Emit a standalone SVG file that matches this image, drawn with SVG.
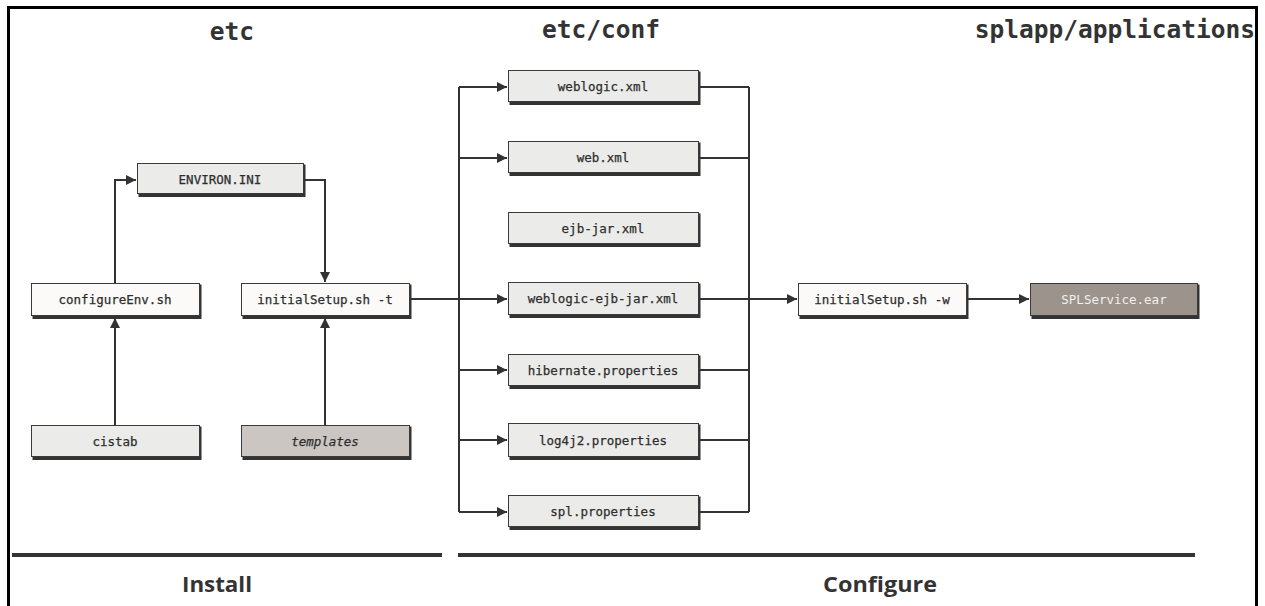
<svg xmlns="http://www.w3.org/2000/svg" width="1265" height="606" viewBox="0 0 1265 606">
<defs>
<style>
.box{fill:#ebebea;stroke:#3a3a3a;stroke-width:1}
.white{fill:#fbfaf8}
.grey{fill:#cbc6c2}
.dark{fill:#9b938c}
.sh{fill:#333}
.lbl{font-family:"DejaVu Sans Mono",monospace;font-size:12.5px;fill:#2e2e2e;text-anchor:middle;stroke:#2e2e2e;stroke-width:0.25}
.title{font-family:"DejaVu Sans Mono",monospace;font-size:24.5px;font-weight:bold;fill:#333}
.foot{font-family:"Liberation Sans Narrow","Open Sans",sans-serif;font-size:22px;font-weight:bold;fill:#333}
.conn{fill:none;stroke:#333;stroke-width:2}
</style>
<marker id="ah" viewBox="0 0 10 10" refX="10" refY="5" markerWidth="5" markerHeight="5" orient="auto" markerUnits="strokeWidth">
<path d="M0,0 L10,5 L0,10 z" fill="#333"/>
</marker>
</defs>
<rect width="1265" height="606" fill="#fff"/>
<path d="M8.5,612 V7.5 H1256.5 V612" fill="none" stroke="#000" stroke-width="3"/>

<g id="titles">
<text class="title" x="232" y="40" text-anchor="middle">etc</text>
<text class="title" x="601" y="38" text-anchor="middle">etc/conf</text>
<text class="title" x="1255" y="38" text-anchor="end">splapp/applications</text>
</g>

<g id="connectors">
<path class="conn" d="M115,283 V180 H136" marker-end="url(#ah)"/>
<path class="conn" d="M304,180 H325 V282" marker-end="url(#ah)"/>
<path class="conn" d="M115,425 V318" marker-end="url(#ah)"/>
<path class="conn" d="M325,425 V318" marker-end="url(#ah)"/>
<path class="conn" d="M410,299 H459"/>
<path class="conn" d="M459,87 V512"/>
<path class="conn" d="M749,87 V512"/>
<path class="conn" d="M459,87 H507" marker-end="url(#ah)"/>
<path class="conn" d="M459,158 H507" marker-end="url(#ah)"/>
<path class="conn" d="M459,299 H507" marker-end="url(#ah)"/>
<path class="conn" d="M459,370 H507" marker-end="url(#ah)"/>
<path class="conn" d="M459,440 H507" marker-end="url(#ah)"/>
<path class="conn" d="M459,512 H507" marker-end="url(#ah)"/>
<path class="conn" d="M699,87 H749"/>
<path class="conn" d="M699,158 H749"/>
<path class="conn" d="M699,299 H749"/>
<path class="conn" d="M699,370 H749"/>
<path class="conn" d="M699,440 H749"/>
<path class="conn" d="M699,512 H749"/>
<path class="conn" d="M749,299 H797" marker-end="url(#ah)"/>
<path class="conn" d="M967,299 H1029" marker-end="url(#ah)"/>
</g>

<g id="environ">
<rect class="sh" x="138.5" y="164.5" width="167" height="32.5"/>
<rect class="box" x="137.5" y="163.5" width="166" height="30"/>
<text class="lbl" x="220" y="183.5">ENVIRON.INI</text>
</g>
<g id="configureEnv">
<rect class="sh" x="32.5" y="284.5" width="169" height="34.5"/>
<rect class="box white" x="31.5" y="283.5" width="168" height="32"/>
<text class="lbl" x="115" y="303.5">configureEnv.sh</text>
</g>
<g id="initialSetupT">
<rect class="sh" x="242.5" y="284.5" width="169" height="34.5"/>
<rect class="box white" x="241.5" y="283.5" width="168" height="32"/>
<text class="lbl" x="325" y="303.5">initialSetup.sh -t</text>
</g>
<g id="cistab">
<rect class="sh" x="32.5" y="426.5" width="169" height="33.5"/>
<rect class="box" x="31.5" y="425.5" width="168" height="31"/>
<text class="lbl" x="115" y="445.5">cistab</text>
</g>
<g id="templates">
<rect class="sh" x="242.5" y="426.5" width="169" height="33.5"/>
<rect class="box grey" x="241.5" y="425.5" width="168" height="31"/>
<text class="lbl" x="325" y="445.5" font-style="italic">templates</text>
</g>

<g id="weblogicxml">
<rect class="sh" x="509.5" y="71.5" width="191" height="33.5"/>
<rect class="box" x="508.5" y="70.5" width="190" height="31"/>
<text class="lbl" x="603" y="90.5">weblogic.xml</text>
</g>
<g id="webxml">
<rect class="sh" x="509.5" y="142.5" width="191" height="33.5"/>
<rect class="box" x="508.5" y="141.5" width="190" height="31"/>
<text class="lbl" x="603" y="161.5">web.xml</text>
</g>
<g id="ejbjar">
<rect class="sh" x="509.5" y="213.5" width="191" height="33.5"/>
<rect class="box" x="508.5" y="212.5" width="190" height="31"/>
<text class="lbl" x="603" y="232.5">ejb-jar.xml</text>
</g>
<g id="weblogicejbjar">
<rect class="sh" x="509.5" y="283.5" width="191" height="34.5"/>
<rect class="box" x="508.5" y="282.5" width="190" height="32"/>
<text class="lbl" x="603" y="303">weblogic-ejb-jar.xml</text>
</g>
<g id="hibernate">
<rect class="sh" x="509.5" y="355.5" width="191" height="33.5"/>
<rect class="box" x="508.5" y="354.5" width="190" height="31"/>
<text class="lbl" x="603" y="374.5">hibernate.properties</text>
</g>
<g id="log4j2">
<rect class="sh" x="509.5" y="424.5" width="191" height="35.5"/>
<rect class="box" x="508.5" y="423.5" width="190" height="33"/>
<text class="lbl" x="603" y="444.5">log4j2.properties</text>
</g>
<g id="splprops">
<rect class="sh" x="509.5" y="496.5" width="191" height="33.5"/>
<rect class="box" x="508.5" y="495.5" width="190" height="31"/>
<text class="lbl" x="603" y="515.5">spl.properties</text>
</g>

<g id="initialSetupW">
<rect class="sh" x="799.5" y="284.5" width="169" height="34.5"/>
<rect class="box white" x="798.5" y="283.5" width="168" height="32"/>
<text class="lbl" x="882" y="303.5">initialSetup.sh -w</text>
</g>
<g id="splservice">
<rect class="sh" x="1031.5" y="284.5" width="168" height="34.5"/>
<rect class="box dark" x="1030.5" y="283.5" width="167" height="32"/>
<text class="lbl" x="1114" y="303.5" style="fill:#f2efec;stroke:none">SPLService.ear</text>
</g>

<g id="phases">
<path d="M12,555 H442 M458,555 H1195" stroke="#333" stroke-width="4"/>
<text class="foot" x="217" y="592" text-anchor="middle" textLength="70" lengthAdjust="spacingAndGlyphs">Install</text>
<text class="foot" x="880" y="592" text-anchor="middle" textLength="114" lengthAdjust="spacingAndGlyphs">Configure</text>
</g>
</svg>
